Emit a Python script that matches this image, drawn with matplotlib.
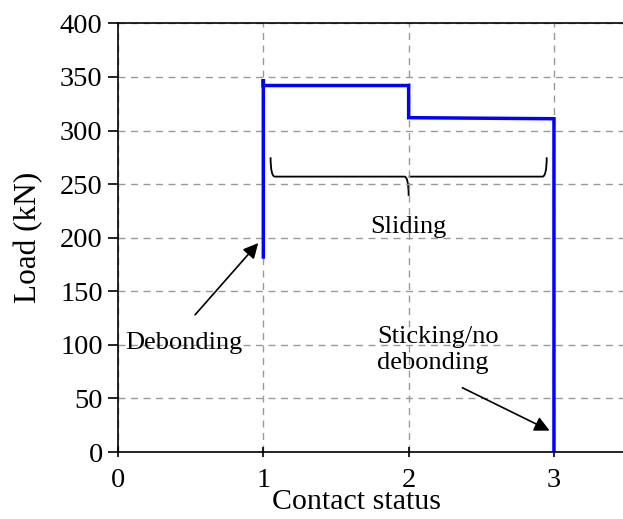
import numpy as np
import matplotlib.pyplot as plt
from matplotlib.path import Path
from matplotlib.patches import PathPatch

plt.rcParams['font.family'] = ['Liberation Serif', 'DejaVu Serif']
plt.rcParams['mathtext.fontset'] = 'stix'

# contact status vs load (kN)
status = [1, 1, 1, 2, 2, 3, 3]
load = [182, 348, 342, 342, 312, 311, 0]

xticks = [0, 1, 2, 3]
yticks = [0, 50, 100, 150, 200, 250, 300, 350, 400]

fig = plt.figure(figsize=(6.23, 5.19), dpi=100)
ax = fig.add_axes([0.1894, 0.129, 0.8106, 0.826])

ax.plot(status, load, color='#0000ff', lw=2.5, solid_joinstyle='miter')

ax.set_xlim(0, 3.475)
ax.set_ylim(0, 400)
ax.set_xticks(xticks)
ax.set_yticks(yticks)
ax.tick_params(axis='both', labelsize=20.5, width=1.2, length=7)
ax.tick_params(axis='x', direction='inout', pad=8)
ax.tick_params(axis='y', direction='out', pad=4)
ax.grid(True, ls=(0, (5, 4)), color='#999999', lw=1)
for s in ax.spines.values():
    s.set_linewidth(1.2)
ax.spines['right'].set_visible(False)

ax.set_xlabel('Contact status', fontsize=21.5, labelpad=-3, x=0.472)
ax.set_ylabel('Load (kN)', fontsize=22.5, labelpad=12)

# curly brace over the sliding range
bx0, bx1, bxm = 1.05, 2.95, 2.0
by, bh, btip = 257, 18, 18
r = 0.03
verts = [(bx0, by + bh), (bx0, by), (bx0 + r, by),
         (bxm - r, by), (bxm, by), (bxm, by - btip),
         (bxm, by), (bxm + r, by),
         (bx1 - r, by), (bx1, by), (bx1, by + bh)]
codes = [Path.MOVETO, Path.CURVE3, Path.CURVE3,
         Path.LINETO, Path.CURVE3, Path.CURVE3,
         Path.MOVETO, Path.CURVE3,
         Path.LINETO, Path.CURVE3, Path.CURVE3]
ax.add_patch(PathPatch(Path(verts, codes), fc='none', ec='black', lw=1.3))
ax.text(2.0, 210, 'Sliding', fontsize=19, ha='center', va='center')

arrow = dict(arrowstyle='-|>,head_length=0.9,head_width=0.45', color='black',
             lw=1.2, shrinkA=0, shrinkB=0)
ax.annotate('', xy=(0.965, 195), xytext=(0.53, 128), arrowprops=arrow)
ax.text(0.45, 102, 'Debonding', fontsize=19, ha='center', va='center')

ax.annotate('', xy=(2.97, 20), xytext=(2.37, 60), arrowprops=arrow)
ax.text(1.785, 95, 'Sticking/no\ndebonding', fontsize=19, ha='left',
        va='center', linespacing=1.25)

fig.savefig('out.png', dpi=100)
